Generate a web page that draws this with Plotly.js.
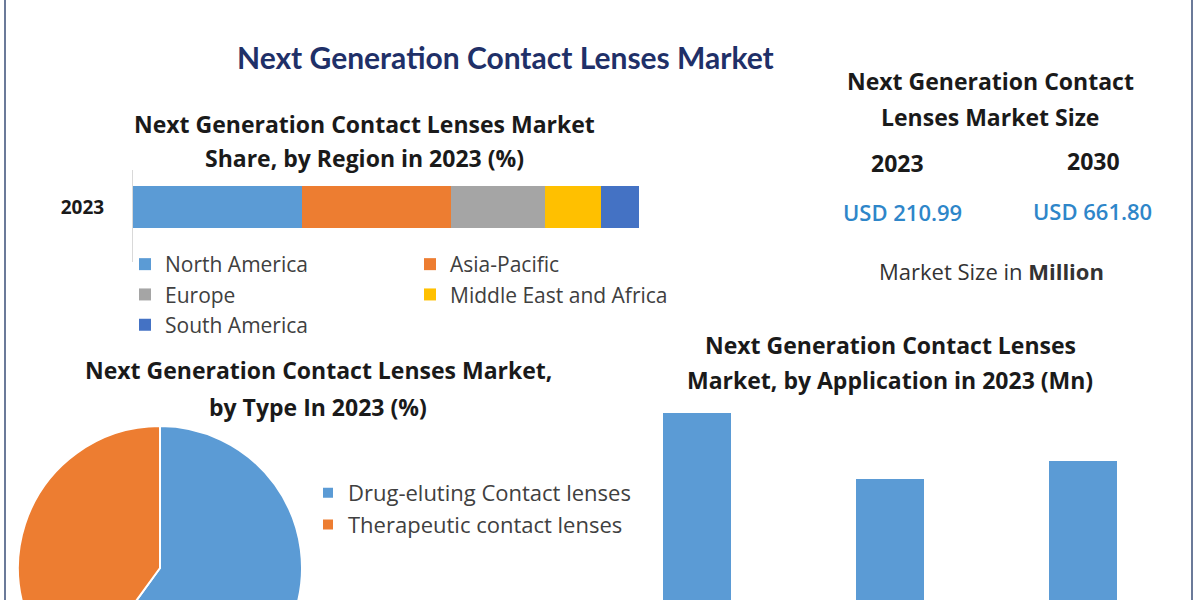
<!DOCTYPE html>
<html>
<head>
<meta charset="utf-8">
<script src="https://cdn.plot.ly/plotly-3.0.1.min.js"></script>
<style>
  html, body { margin: 0; padding: 0; width: 1200px; height: 600px; overflow: hidden; background: #ffffff; }
  #wrap { width: 1200px; height: 600px; overflow: hidden; position: relative; }
  #chart { width: 1200px; height: 760px; }
</style>
</head>
<body>
<div id="wrap"><div id="chart"></div></div>
<script>
// ---- data ----
const regionYear = ['2023'];
const regionNames = ['North America', 'Asia-Pacific', 'Europe', 'Middle East and Africa', 'South America'];
const regionShares = [33.3, 29.4, 18.5, 11.2, 7.5];
const regionColors = ['#5b9bd5', '#ed7d31', '#a5a5a5', '#ffc000', '#4472c4'];
const regionLegend = ['legend', 'legend2', 'legend', 'legend2', 'legend'];

const typeLabels = ['Drug-eluting Contact lenses', 'Therapeutic contact lenses'];
const typeShares = [60, 40];
const typeColors = ['#5b9bd5', '#ed7d31'];

const appLabels = ['Drug Delivery', 'Diagnostics', 'Others'];
const appValues = [82, 62, 67.5];

const sizeYears = ['2023', '2030'];
const sizeValues = ['USD 210.99', 'USD 661.80'];

// ---- geometry helpers (figure is 1200 x 760, viewport crops at 600) ----
const W = 1200, H = 760;
const px = v => v / W;
const py = v => 1 - v / H;

const traces = [];
regionNames.forEach((name, i) => {
  traces.push({
    type: 'bar', orientation: 'h',
    name: name,
    x: [regionShares[i]], y: regionYear,
    xaxis: 'x', yaxis: 'y',
    width: 0.4565,
    marker: { color: regionColors[i], line: { width: 0 } },
    legend: regionLegend[i],
    legendgroup: 'g' + i,
    hoverinfo: 'name+x'
  });
});

traces.push({
  type: 'pie',
  labels: typeLabels, values: typeShares,
  marker: { colors: typeColors, line: { color: '#ffffff', width: 2 } },
  sort: false, direction: 'clockwise', rotation: 0,
  textinfo: 'none',
  domain: { x: [px(18), px(302)], y: [py(710), py(426)] },
  legend: 'legend3'
});

traces.push({
  type: 'bar',
  x: appLabels, y: appValues,
  xaxis: 'x2', yaxis: 'y2',
  width: 0.352,
  marker: { color: '#5b9bd5' },
  showlegend: false
});

const titleFont = { family: 'Open Sans, sans-serif', size: 23, color: '#1a1a1a', weight: 700 };
const ann = (text, x, y, font) => ({
  text: text, x: px(x), y: py(y), xref: 'paper', yref: 'paper',
  xanchor: 'center', yanchor: 'middle', showarrow: false, font: font
});

const layout = {
  width: W, height: H,
  margin: { l: 0, r: 0, t: 0, b: 0 },
  paper_bgcolor: '#ffffff', plot_bgcolor: 'rgba(0,0,0,0)',
  barmode: 'stack',
  showlegend: true,
  xaxis: { domain: [px(133), px(640)], range: [0, 100], showgrid: false, zeroline: false,
           showticklabels: false, showline: false, fixedrange: true },
  yaxis: { domain: [py(262), py(170)], range: [-0.598, 0.402], type: 'category',
           showgrid: false, zeroline: false, showline: true, linecolor: '#d9d9d9', linewidth: 1,
           ticks: '', ticklabelstandoff: 24,
           tickfont: { family: 'Open Sans, sans-serif', size: 19, color: '#1a1a1a', weight: 700 } },
  xaxis2: { domain: [px(600.5), px(1179.5)], range: [-0.5, 2.5], showgrid: false, zeroline: false,
            showline: false, ticks: '', anchor: 'y2', showticklabels: false },
  yaxis2: { domain: [py(684), py(400)], range: [0, 86], visible: false, anchor: 'x2' },
  legend: { x: px(125), y: py(244), xanchor: 'left', yanchor: 'top', orientation: 'v',
            traceorder: 'grouped', tracegroupgap: 0, bgcolor: 'rgba(0,0,0,0)',
            font: { family: 'Open Sans, sans-serif', size: 21, color: '#404040' } },
  legend2: { x: px(410), y: py(244), xanchor: 'left', yanchor: 'top', orientation: 'v',
             traceorder: 'grouped', tracegroupgap: 0, bgcolor: 'rgba(0,0,0,0)',
             font: { family: 'Open Sans, sans-serif', size: 21, color: '#404040' } },
  legend3: { x: px(308), y: py(472), xanchor: 'left', yanchor: 'top', orientation: 'v',
             bgcolor: 'rgba(0,0,0,0)',
             font: { family: 'Open Sans, sans-serif', size: 22, color: '#404040' } },
  shapes: [
    { type: 'line', xref: 'paper', yref: 'paper', x0: px(5), x1: px(5), y0: 0, y1: 1,
      line: { color: '#6b7a99', width: 2 } },
    { type: 'line', xref: 'paper', yref: 'paper', x0: px(1192), x1: px(1192), y0: 0, y1: 1,
      line: { color: '#6b7a99', width: 2 } }
  ],
  annotations: [
    ann('Next Generation Contact Lenses Market', 505, 57,
        { family: 'Lato, sans-serif', size: 30, color: '#1f3068', weight: 700 }),
    ann('Next Generation Contact Lenses Market', 365, 124, titleFont),
    ann('Share, by Region in 2023 (%)', 365, 158, titleFont),
    ann('Next Generation Contact', 990, 81, titleFont),
    ann('Lenses Market Size', 990, 117, titleFont),
    ann(sizeYears[0], 897, 163, titleFont),
    ann(sizeYears[1], 1093, 161, titleFont),
    ann(sizeValues[0], 902, 212, { family: 'Open Sans, sans-serif', size: 22, color: '#2e86c9', weight: 600 }),
    ann(sizeValues[1], 1092, 211, { family: 'Open Sans, sans-serif', size: 22, color: '#2e86c9', weight: 600 }),
    ann('Market Size in <b>Million</b>', 991, 271, { family: 'Open Sans, sans-serif', size: 22, color: '#333333' }),
    ann('Next Generation Contact Lenses Market,', 318, 370, titleFont),
    ann('by Type In 2023 (%)', 318, 407, titleFont),
    ann('Next Generation Contact Lenses', 890, 345, titleFont),
    ann('Market, by Application in 2023 (Mn)', 890, 380, titleFont)
  ]
};

Plotly.newPlot('chart', traces, layout, { displayModeBar: false, staticPlot: true });
</script>
</body>
</html>
